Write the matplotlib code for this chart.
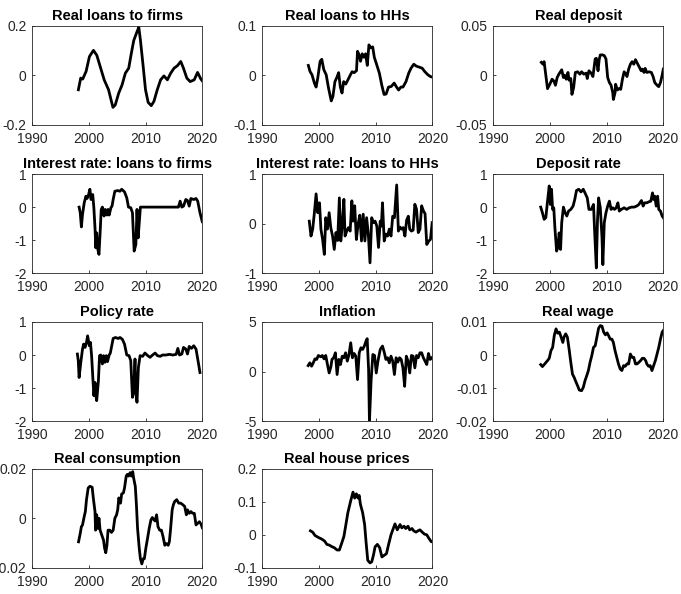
import numpy as np
import matplotlib.pyplot as plt

plt.rcParams['font.family'] = ['Liberation Sans', 'DejaVu Sans']
plt.rcParams['axes.unicode_minus'] = False

# Data (year, value)
firms_loans_t = [1998.17, 1998.58, 1998.93, 1999.53, 2000.12, 2000.83, 2001.42, 2002.01, 2002.72, 2003.49,
                 2004.26, 2004.67, 2005.27, 2005.86, 2006.45, 2007.04, 2007.51, 2007.93, 2008.52, 2008.82,
                 2009.11, 2009.59, 2010.0, 2010.47, 2011.01, 2011.48, 2012.07, 2012.66, 2013.25, 2013.85,
                 2014.44, 2015.03, 2015.62, 2016.21, 2016.69, 2017.28, 2017.87, 2018.58, 2019.17, 2019.76, 2020.0]
firms_loans = [-0.059, -0.012, -0.016, 0.015, 0.075, 0.10, 0.08, 0.035, -0.019, -0.059,
               -0.13, -0.12, -0.073, -0.04, 0.008, 0.028, 0.089, 0.14, 0.176, 0.193,
               0.14, 0.035, -0.059, -0.11, -0.123, -0.106, -0.059, -0.019, -0.003, -0.019,
               0.008, 0.028, 0.038, 0.055, 0.028, -0.012, -0.026, -0.019, 0.011, -0.016, -0.023]

hh_loans_t = [1998.13, 1998.43, 1998.78, 1999.2, 1999.5, 1999.79, 2000.21, 2000.5, 2000.86, 2001.28,
              2001.69, 2002.17, 2002.46, 2002.82, 2003.18, 2003.47, 2003.77, 2004.07, 2004.36, 2004.72,
              2005.13, 2005.55, 2005.85, 2006.2, 2006.62, 2006.8, 2007.09, 2007.33, 2007.63, 2007.92,
              2008.22, 2008.52, 2008.81, 2009.11, 2009.47, 2009.76, 2010.18, 2010.65, 2011.07, 2011.48,
              2011.84, 2012.26, 2012.73, 2013.26, 2013.62, 2014.04, 2014.45, 2014.81, 2015.34, 2015.82,
              2016.23, 2016.71, 2017.18, 2017.72, 2018.19, 2018.66, 2019.2, 2019.67, 2019.97]
hh_loans = [0.0196, 0.0074, 0.0007, -0.016, -0.024, -0.006, 0.028, 0.032, 0.011, 0.0007,
            -0.026, -0.052, -0.043, -0.013, -0.004, 0.005, -0.024, -0.036, -0.013, -0.018,
            -0.009, 0.0007, 0.007, 0.005, 0.009, 0.048, 0.041, 0.028, 0.043, 0.036,
            0.043, 0.0196, 0.061, 0.055, 0.057, 0.036, 0.021, 0.004, -0.020, -0.039,
            -0.038, -0.024, -0.023, -0.016, -0.023, -0.030, -0.024, -0.024, -0.013, 0.004,
            0.014, 0.022, 0.018, 0.016, 0.014, 0.007, 0.0007, -0.003, -0.004]

deposit_t = [1998.5, 1998.8, 1999.0, 1999.2, 1999.6, 2000.0, 2000.4, 2000.7, 2001.0, 2001.3,
             2001.6, 2002.1, 2002.4, 2002.6, 2002.9, 2003.2, 2003.4, 2003.7, 2003.9, 2004.2,
             2004.5, 2004.9, 2005.3, 2005.6, 2006.0, 2006.4, 2006.6, 2006.9, 2007.3, 2007.6,
             2008.0, 2008.2, 2008.5, 2008.7, 2008.9, 2009.3, 2009.6, 2009.9, 2010.2, 2010.5,
             2010.8, 2011.1, 2011.2, 2011.5, 2011.6, 2011.9, 2012.2, 2012.5, 2012.8, 2013.1,
             2013.4, 2013.6, 2013.9, 2014.2, 2014.5, 2014.8, 2015.1, 2015.4, 2015.8, 2016.1,
             2016.3, 2016.6, 2016.8, 2017.1, 2017.5, 2017.9, 2018.2, 2018.5, 2018.9, 2019.2,
             2019.5, 2019.8, 2020.0]
deposit = [0.0129, 0.011, 0.0136, 0.0044, -0.0136, -0.0092, -0.0041, -0.0058, -0.0102, -0.0024,
           0.001, 0.0054, -0.0024, 0.0, -0.0041, 0.0027, -0.0051, -0.0034, -0.0194, -0.0126,
           0.0027, 0.0034, 0.001, 0.0034, 0.001, 0.002, -0.0034, 0.0044, 0.002, -0.0014,
           0.0163, 0.017, 0.0044, 0.0156, 0.0204, 0.0204, 0.0197, 0.0163, -0.0024, -0.0075,
           -0.0102, -0.0177, -0.0245, -0.0177, -0.0092, -0.015, -0.0136, -0.0143, -0.0041, 0.0034,
           0.001, -0.0014, 0.0061, 0.011, 0.0136, 0.011, 0.0156, 0.0122, 0.0078, 0.0044,
           0.0061, 0.0027, 0.0068, 0.0027, 0.0034, 0.0027, -0.0014, -0.0075, -0.0102, -0.0116,
           -0.0075, 0.0, 0.0061]

rate_firms_t = [1998.3, 1998.5, 1998.7, 1998.9, 1999.2, 1999.5, 1999.7, 1999.9, 2000.2, 2000.4,
                2000.7, 2000.9, 2001.1, 2001.25, 2001.4, 2001.6, 2001.8, 2002.0, 2002.2, 2002.4,
                2002.7, 2002.9, 2003.2, 2003.4, 2003.6, 2003.9, 2004.1, 2004.3, 2004.6, 2005.1,
                2005.5, 2005.8, 2006.3, 2006.7, 2007.0, 2007.4, 2007.7, 2008.0, 2008.3, 2008.5,
                2008.7, 2008.9, 2009.1, 2015.8, 2016.1, 2016.4, 2016.7, 2017.1, 2017.4, 2017.7,
                2018.0, 2018.5, 2018.9, 2019.2, 2019.6, 2020.0]
rate_firms = [0.0, -0.17, -0.6, -0.22, 0.13, 0.33, 0.26, 0.33, 0.54, 0.23,
              0.38, -0.02, -0.63, -1.23, -0.78, -1.28, -1.43, -0.78, -0.07, 0.0,
              -0.27, -0.07, -0.24, -0.07, -0.24, -0.02, 0.03, 0.23, 0.48, 0.5,
              0.48, 0.54, 0.46, 0.28, 0.0, -0.02, -0.17, -1.33, -1.13, -0.07,
              -0.93, -0.47, 0.0, 0.0, 0.18, 0.0, 0.03, 0.23, 0.2, 0.03,
              0.26, 0.23, 0.26, 0.18, -0.17, -0.44]

rate_hh_t = [1998.3, 1998.6, 1998.9, 1999.2, 1999.5, 1999.8, 2000.1, 2000.35, 2000.65, 2000.95,
             2001.2, 2001.5, 2001.8, 2002.1, 2002.4, 2002.7, 2003.0, 2003.3, 2003.6, 2003.85,
             2004.1, 2004.4, 2004.6, 2004.9, 2005.2, 2005.5, 2005.8, 2006.0, 2006.3, 2006.6,
             2006.9, 2007.2, 2007.5, 2007.8, 2008.1, 2008.4, 2008.7, 2009.0, 2009.3, 2009.6,
             2009.9, 2010.2, 2010.5, 2010.8, 2011.0, 2011.2, 2011.5, 2011.8, 2012.1, 2012.4,
             2012.7, 2013.0, 2013.3, 2013.7, 2014.0, 2014.3, 2014.55, 2014.85, 2015.15, 2015.45,
             2015.75, 2016.0, 2016.3, 2016.6, 2016.9, 2017.2, 2017.5, 2017.8, 2018.1, 2018.4,
             2018.7, 2019.0, 2019.35, 2019.65, 2019.95]
rate_hh = [0.05, -0.25, -0.11, 0.22, 0.6, 0.22, 0.42, -0.11, -0.32, -0.62,
           0.12, -0.11, 0.22, -0.09, -0.25, -0.52, -0.18, -0.34, 0.52, -0.35,
           -0.05, 0.49, -0.25, -0.15, -0.08, -0.15, 0.46, 0.05, 0.36, -0.32,
           -0.01, 0.17, -0.35, 0.19, -0.35, 0.12, -0.21, -0.79, 0.12, 0.02,
           0.05, -0.05, -0.48, 0.05, -0.05, 0.42, -0.35, -0.21, -0.25, -0.11,
           -0.25, 0.15, 0.12, 0.78, -0.15, -0.07, -0.11, -0.08, -0.25, 0.07,
           0.15, -0.11, -0.15, -0.13, 0.39, 0.29, -0.18, -0.11, 0.36, 0.26,
           0.2, -0.42, -0.35, -0.32, 0.02]

dep_rate_t = [1998.4, 1998.7, 1999.0, 1999.3, 1999.6, 1999.9, 2000.1, 2000.3, 2000.5, 2000.7,
              2000.9, 2001.2, 2001.4, 2001.65, 2001.9, 2002.1, 2002.4, 2002.7, 2003.0, 2003.3,
              2003.7, 2004.1, 2004.4, 2004.7, 2005.1, 2005.5, 2005.9, 2006.2, 2006.6, 2006.9,
              2007.3, 2007.7, 2007.9, 2008.2, 2008.4, 2008.6, 2008.9, 2009.2, 2009.35, 2009.6,
              2009.9, 2010.2, 2010.5, 2010.8, 2011.1, 2011.4, 2011.7, 2012.0, 2012.25, 2012.6,
              2013.1, 2013.55, 2014.0, 2014.4, 2014.85, 2015.3, 2015.7, 2016.15, 2016.45, 2016.7,
              2017.1, 2017.45, 2017.8, 2018.1, 2018.3, 2018.5, 2018.75, 2019.0, 2019.2, 2019.5,
              2019.8, 2020.0]
dep_rate = [0.0, -0.17, -0.37, -0.32, 0.18, 0.64, 0.08, 0.54, -0.07, -0.02,
            -0.63, -1.33, -1.23, -0.78, -1.28, -0.47, 0.0, -0.17, -0.27, -0.12,
            -0.07, 0.03, 0.23, 0.5, 0.54, 0.46, 0.54, 0.43, 0.28, -0.07,
            -0.07, 0.08, -0.73, -1.84, -0.42, 0.28, -0.02, -0.93, -1.74, -0.47,
            -0.17, 0.03, 0.18, -0.07, -0.02, -0.07, -0.02, 0.13, -0.12, -0.07,
            -0.02, -0.07, -0.02, 0.0, 0.0, 0.03, 0.08, 0.2, 0.03, 0.13,
            0.13, 0.16, 0.18, 0.43, 0.23, 0.33, 0.03, 0.33, -0.07, -0.12,
            -0.27, -0.32]

policy_t = [1998.0, 1998.15, 1998.3, 1998.6, 1998.9, 1999.1, 1999.35, 1999.6, 1999.8, 2000.1,
            2000.3, 2000.5, 2000.7, 2000.9, 2001.1, 2001.25, 2001.4, 2001.7, 2001.9, 2002.1,
            2002.4, 2002.6, 2002.85, 2003.1, 2003.3, 2003.6, 2003.8, 2004.05, 2004.3, 2004.7,
            2005.2, 2005.5, 2005.9, 2006.3, 2006.7, 2007.1, 2007.4, 2007.7, 2007.9, 2008.15,
            2008.3, 2008.5, 2008.75, 2009.05, 2009.5, 2009.9, 2010.4, 2010.8, 2011.25, 2011.7,
            2012.1, 2012.6, 2013.0, 2013.6, 2014.2, 2014.8, 2015.4, 2015.7, 2016.0, 2016.4,
            2016.7, 2017.1, 2017.4, 2017.7, 2018.1, 2018.5, 2018.9, 2019.3, 2019.6]
policy = [0.03, -0.17, -0.68, -0.22, 0.18, 0.33, 0.23, 0.38, 0.58, 0.28,
          0.38, -0.02, -0.63, -1.23, -0.83, -1.23, -1.38, -0.78, -0.02, 0.0,
          -0.27, -0.02, -0.22, -0.02, -0.2, 0.0, 0.06, 0.28, 0.5, 0.53,
          0.5, 0.53, 0.48, 0.33, 0.0, -0.02, -0.17, -1.28, -1.13, -0.12,
          -1.13, -1.43, -0.37, -0.02, -0.04, 0.06, -0.02, -0.07, 0.0, 0.06,
          -0.02, -0.04, 0.0, 0.0, 0.02, 0.0, 0.02, 0.2, 0.0, 0.03,
          0.23, 0.18, 0.03, 0.26, 0.2, 0.28, 0.18, -0.22, -0.53]

infl_t = [1998.1, 1998.4, 1998.7, 1999.0, 1999.3, 1999.6, 1999.9, 2000.3, 2000.6, 2000.9,
          2001.2, 2001.5, 2001.8, 2002.1, 2002.3, 2002.6, 2002.9, 2003.2, 2003.5, 2003.8,
          2004.1, 2004.4, 2004.7, 2005.0, 2005.3, 2005.6, 2005.9, 2006.2, 2006.5, 2006.8,
          2007.1, 2007.4, 2007.7, 2008.0, 2008.3, 2008.5, 2008.75, 2008.9, 2009.2, 2009.5,
          2009.8, 2010.1, 2010.4, 2010.8, 2011.2, 2011.5, 2011.8, 2012.1, 2012.4, 2012.7,
          2013.0, 2013.3, 2013.6, 2013.9, 2014.2, 2014.5, 2014.8, 2015.1, 2015.4, 2015.7,
          2016.0, 2016.3, 2016.6, 2016.9, 2017.2, 2017.5, 2017.8, 2018.1, 2018.4, 2018.7,
          2019.0, 2019.3, 2019.6, 2019.9]
infl = [0.6, 0.88, 0.54, 0.88, 1.28, 1.22, 1.62, 1.49, 1.62, 1.28,
        1.62, 0.71, -0.14, 0.47, 1.22, 1.39, 1.89, -0.3, 1.22, 0.71,
        1.55, 1.39, 1.89, 1.05, 1.72, 2.9, 1.39, 1.82, 1.55, -0.81,
        1.89, 2.4, 2.23, 2.57, 3.07, 3.31, 0.2, -5.03, -0.81, 1.72,
        1.62, -0.14, 1.05, 2.23, 2.57, 1.96, 1.22, 1.39, 0.88, 1.55,
        1.05, -0.3, 1.39, 0.95, 1.39, 1.22, 0.37, -1.49, 1.55, 1.05,
        -0.14, 1.62, 1.55, 0.37, 1.62, 1.39, 1.89, 1.89, 1.39, 1.05,
        0.71, 1.82, 1.22, 1.39]

wage_t = [1998.4, 1998.7, 1999.1, 1999.6, 1999.9, 2000.2, 2000.5, 2000.8, 2001.1, 2001.4,
          2001.7, 2002.0, 2002.3, 2002.5, 2002.8, 2003.1, 2003.4, 2003.7, 2004.0, 2004.3,
          2004.6, 2004.9, 2005.2, 2005.6, 2005.9, 2006.2, 2006.5, 2006.8, 2007.1, 2007.4,
          2007.7, 2008.0, 2008.3, 2008.6, 2008.9, 2009.2, 2009.5, 2009.8, 2010.1, 2010.35,
          2010.65, 2010.95, 2011.2, 2011.5, 2011.8, 2012.1, 2012.4, 2012.7, 2013.0, 2013.3,
          2013.6, 2013.9, 2014.2, 2014.5, 2014.8, 2015.1, 2015.4, 2015.7, 2016.0, 2016.3,
          2016.6, 2016.9, 2017.1, 2017.4, 2017.7, 2018.0, 2018.3, 2018.6, 2018.9, 2019.2,
          2019.5, 2019.8, 2020.0]
wage = [-0.0029, -0.0035, -0.0027, -0.0017, -0.001, 0.0013, 0.0023, 0.006, 0.0079, 0.0066,
        0.0069, 0.0054, 0.0038, 0.0054, 0.0064, 0.0054, 0.0018, -0.0022, -0.0058, -0.0068,
        -0.0081, -0.0093, -0.0106, -0.0108, -0.0098, -0.0078, -0.0063, -0.0047, -0.0022, -0.0002,
        0.0023, 0.0028, 0.0054, 0.0081, 0.0089, 0.0087, 0.0069, 0.0061, 0.0067, 0.0059,
        0.0048, 0.0048, 0.0038, 0.0013, -0.0007, -0.0027, -0.0042, -0.0047, -0.0032, -0.0034,
        -0.0027, -0.0027, 0.0003, -0.0007, -0.0007, -0.0027, -0.0027, -0.0022, -0.0017, -0.001,
        -0.001, -0.0017, -0.0027, -0.0034, -0.0032, -0.0047, -0.0032, -0.0017, 0.0003, 0.0023,
        0.0048, 0.0069, 0.0074]

cons_t = [1998.2, 1998.5, 1998.7, 1998.9, 1999.2, 1999.4, 1999.6, 1999.9, 2000.2, 2000.6,
          2000.8, 2001.1, 2001.2, 2001.4, 2001.6, 2001.8, 2002.0, 2002.3, 2002.6, 2002.8,
          2003.0, 2003.2, 2003.4, 2003.7, 2004.0, 2004.3, 2004.6, 2004.9, 2005.1, 2005.3,
          2005.6, 2005.8, 2006.1, 2006.3, 2006.6, 2006.8, 2007.0, 2007.3, 2007.5, 2007.75,
          2007.9, 2008.2, 2008.4, 2008.6, 2008.9, 2009.1, 2009.35, 2009.6, 2009.8, 2010.05,
          2010.35, 2010.65, 2010.95, 2011.2, 2011.5, 2011.7, 2011.95, 2012.2, 2012.5, 2012.8,
          2013.1, 2013.4, 2013.7, 2014.0, 2014.2, 2014.4, 2014.7, 2014.9, 2015.15, 2015.5,
          2015.85, 2016.2, 2016.6, 2016.9, 2017.2, 2017.4, 2017.7, 2018.0, 2018.3, 2018.6,
          2018.9, 2019.2, 2019.5, 2019.8, 2020.0]
cons = [-0.0095, -0.0061, -0.0034, -0.0027, 0.0007, 0.0027, 0.0075, 0.0122, 0.0129, 0.0125,
        0.0082, 0.0027, -0.0048, 0.0014, -0.0041, 0.0, -0.0048, -0.0068, -0.0088, -0.0122,
        -0.0139, -0.0109, -0.0048, -0.0048, -0.0057, -0.0048, 0.0, 0.0014, 0.0034, 0.0082,
        0.0061, 0.0098, 0.0102, 0.0122, 0.017, 0.0177, 0.017, 0.0184, 0.017, 0.0188,
        0.0163, 0.0129, 0.0054, -0.0041, -0.0122, -0.0163, -0.0184, -0.0163, -0.0163, -0.0122,
        -0.0082, -0.0041, -0.0007, 0.0003, -0.0007, -0.0011, 0.0014, -0.0034, -0.0048, -0.0048,
        -0.0075, -0.0109, -0.0102, -0.0109, -0.0095, -0.0048, 0.0034, 0.0054, 0.0068, 0.0075,
        0.0061, 0.0061, 0.0054, 0.0048, 0.0014, 0.0034, 0.002, 0.0027, 0.002, 0.002,
        -0.0027, -0.002, -0.0014, -0.0024, -0.0038]

house_t = [1998.5, 1998.9, 1999.3, 1999.9, 2000.5, 2001.0, 2001.4, 2001.8, 2002.3, 2002.7,
           2003.2, 2003.6, 2004.0, 2004.4, 2004.8, 2005.1, 2005.6, 2006.0, 2006.3, 2006.6,
           2006.9, 2007.1, 2007.3, 2007.7, 2008.05, 2008.3, 2008.6, 2009.0, 2009.3, 2009.6,
           2009.9, 2010.3, 2010.7, 2011.1, 2011.5, 2011.9, 2012.25, 2012.7, 2013.1, 2013.4,
           2013.8, 2014.3, 2014.6, 2015.0, 2015.3, 2015.7, 2016.0, 2016.4, 2016.7, 2017.1,
           2017.45, 2017.8, 2018.2, 2018.6, 2019.0, 2019.35, 2019.8, 2020.0]
house = [0.012, 0.008, -0.002, -0.008, -0.013, -0.019, -0.029, -0.031, -0.036, -0.039,
         -0.046, -0.046, -0.026, -0.005, 0.036, 0.067, 0.103, 0.129, 0.111, 0.124,
         0.111, 0.119, 0.093, 0.067, 0.031, -0.021, -0.077, -0.085, -0.082, -0.062,
         -0.036, -0.029, -0.039, -0.067, -0.062, -0.057, -0.031, 0.0, 0.019, 0.033,
         0.015, 0.031, 0.021, 0.026, 0.019, 0.026, 0.015, 0.019, 0.012, 0.008,
         0.012, 0.015, 0.008, 0.002, 0.0, -0.01, -0.021, -0.021]

titles = ['Real loans to firms', 'Real loans to HHs', 'Real deposit',
          'Interest rate: loans to firms', 'Interest rate: loans to HHs', 'Deposit rate',
          'Policy rate', 'Inflation', 'Real wage',
          'Real consumption', 'Real house prices']
series = [(firms_loans_t, firms_loans), (hh_loans_t, hh_loans), (deposit_t, deposit),
          (rate_firms_t, rate_firms), (rate_hh_t, rate_hh), (dep_rate_t, dep_rate),
          (policy_t, policy), (infl_t, infl), (wage_t, wage),
          (cons_t, cons), (house_t, house)]
yticks = [[-0.2, 0, 0.2], [-0.1, 0, 0.1], [-0.05, 0, 0.05],
          [-2, -1, 0, 1], [-1, 0, 1], [-2, -1, 0, 1],
          [-2, -1, 0, 1], [-5, 0, 5], [-0.02, -0.01, 0, 0.01],
          [-0.02, 0, 0.02], [-0.1, 0, 0.1, 0.2]]
ytick_labels = [['-0.2', '0', '0.2'], ['-0.1', '0', '0.1'], ['-0.05', '0', '0.05'],
                ['-2', '-1', '0', '1'], ['-1', '0', '1'], ['-2', '-1', '0', '1'],
                ['-2', '-1', '0', '1'], ['-5', '0', '5'], ['-0.02', '-0.01', '0', '0.01'],
                ['-0.02', '0', '0.02'], ['-0.1', '0', '0.1', '0.2']]
xticks = [1990, 2000, 2010, 2020]

fig = plt.figure(figsize=(6.81, 5.94), dpi=100)

# subplot grid positions (MATLAB-like 4x3 layout)
lefts = [0.047, 0.385, 0.724]
bottoms = [0.790, 0.540, 0.291, 0.044]
w, h = 0.250, 0.167
grey = '#262626'

for i, title in enumerate(titles):
    r, c = divmod(i, 3)
    ax = fig.add_axes([lefts[c], bottoms[r], w, h])
    t, v = series[i]
    ax.plot(t, v, color='black', lw=2.0)
    ax.set_xlim(1990, 2020)
    ax.set_ylim(yticks[i][0], yticks[i][-1])
    ax.set_xticks(xticks)
    ax.set_yticks(yticks[i])
    ax.set_yticklabels(ytick_labels[i])
    ax.tick_params(direction='in', length=2, width=0.6, labelsize=10, colors=grey)
    ax.tick_params(axis='x', pad=5)
    ax.tick_params(axis='y', pad=4)
    for s in ax.spines.values():
        s.set_color(grey)
        s.set_linewidth(0.6)
    ax.set_title(title, fontsize=10.5, fontweight='bold', pad=4)

fig.savefig('out.png', dpi=100)
